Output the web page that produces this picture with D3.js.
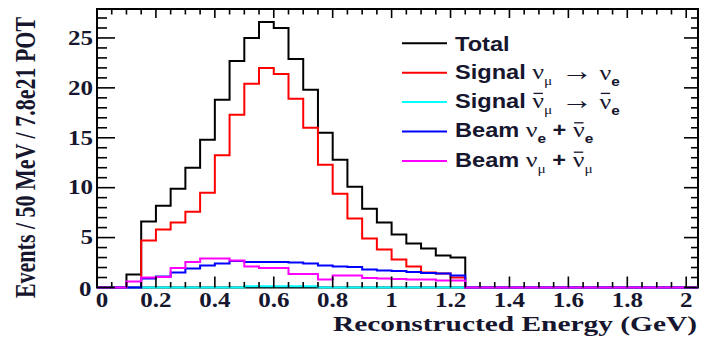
<!DOCTYPE html>
<html>
<head>
<meta charset="utf-8">
<script src="https://cdn.jsdelivr.net/npm/d3@7"></script>
<style>
  html, body { margin: 0; padding: 0; background: #fff; }
  svg { display: block; }
</style>
</head>
<body>
<svg id="chart" width="701" height="340"></svg>
<script>
// Bin width 50 MeV, bins start at 0 GeV; 25 filled bins up to 1.25 GeV
const binWidth = 0.05;
const total      = [0, 0, 1.3, 6.6, 8.2, 9.9, 12.0, 14.8, 18.8, 22.7, 25.0, 26.6, 26.0, 22.9, 19.8, 15.5, 12.8, 10.1, 7.9, 6.5, 5.3, 4.4, 3.9, 3.2, 3.0];
const signalNue  = [0, 0, 0, 4.7, 5.8, 6.5, 7.6, 9.5, 13.25, 17.3, 20.4, 22.0, 21.4, 18.9, 16.0, 12.3, 9.4, 6.9, 4.9, 3.8, 2.8, 2.1, 1.5, 1.4, 1.0];
const signalAnti = [0, 0, 0, 0, 0, 0, 0, 0, 0, 0, 0.12, 0.12, 0.12, 0.12, 0.12, 0, 0, 0, 0, 0, 0, 0, 0, 0, 0];
const beamNue    = [0, 0, 0, 0.9, 1.1, 1.5, 1.9, 2.2, 2.4, 2.65, 2.55, 2.55, 2.55, 2.5, 2.4, 2.2, 2.1, 2.05, 1.8, 1.7, 1.65, 1.55, 1.45, 1.4, 1.2];
const beamNumu   = [0, 0, 0.6, 1.0, 1.05, 1.95, 2.55, 2.9, 2.9, 2.7, 2.1, 1.95, 1.95, 1.35, 1.35, 0.8, 1.2, 1.2, 0.95, 0.9, 0.85, 0.8, 0.8, 0.7, 0.7];

const xTickValues = [0, 0.2, 0.4, 0.6, 0.8, 1, 1.2, 1.4, 1.6, 1.8, 2];
const xTickLabels = ["0", "0.2", "0.4", "0.6", "0.8", "1", "1.2", "1.4", "1.6", "1.8", "2"];
const yTickValues = [0, 5, 10, 15, 20, 25];
const yTickLabels = ["0", "5", "10", "15", "20", "25"];

const seriesNames  = ["Total", "Signal", "SignalAnti", "BeamNue", "BeamNumu"];
const seriesColors = ["#000000", "#ff0000", "#00ffff", "#0000ff", "#ff00ff"];

const xMax = 2.04, yMax = 27.9;
const L = 97, R = 698, T = 9, B = 287.5;

const svg = d3.select("#chart");
const x = d3.scaleLinear().domain([0, xMax]).range([L, R]);
const y = d3.scaleLinear().domain([0, yMax]).range([B, T]);

const ink = "#16162e";
const serif = "'Liberation Serif', 'Times New Roman', serif";
const sans = "'Liberation Sans', Arial, sans-serif";

// frame
svg.append("rect")
  .attr("x", L).attr("y", T).attr("width", R - L).attr("height", B - T)
  .attr("fill", "none").attr("stroke", "#000").attr("stroke-width", 2);

// histograms (outline steps)
const step = d3.line().x(d => x(d[0])).y(d => y(d[1])).curve(d3.curveStepAfter);
function histPoints(vals) {
  const pts = vals.map((v, i) => [i * binWidth, v]);
  pts.push([vals.length * binWidth, 0]);
  pts.push([xMax, 0]);
  return pts;
}
const allSeries = [total, signalNue, signalAnti, beamNue, beamNumu];
svg.append("defs").append("clipPath").attr("id", "plotClip")
  .append("rect").attr("x", L - 1).attr("y", T).attr("width", R - L + 2).attr("height", B - T + 2);
const hg = svg.append("g").attr("clip-path", "url(#plotClip)");
allSeries.forEach((vals, i) => {
  hg.append("path")
    .attr("class", "hist-" + seriesNames[i])
    .attr("d", step(histPoints(vals)))
    .attr("fill", "none")
    .attr("stroke", seriesColors[i])
    .attr("stroke-width", 2);
});

// ticks
const tg = svg.append("g").attr("stroke", "#000").attr("stroke-width", 1.6);
const xMinor = d3.range(0, xMax + 1e-9, 0.05);
xMinor.forEach(v => {
  const major = Math.abs(v / 0.2 - Math.round(v / 0.2)) < 1e-6;
  const xv = x(v);
  tg.append("line").attr("x1", xv).attr("x2", xv).attr("y1", B).attr("y2", B - (major ? 11 : 5.5));
  tg.append("line").attr("x1", xv).attr("x2", xv).attr("y1", T).attr("y2", T + (major ? 9 : 5.5));
});
d3.range(0, Math.floor(yMax) + 1, 1).forEach(v => {
  const major = v % 5 === 0;
  const yv = y(v);
  tg.append("line").attr("x1", L).attr("x2", L + (major ? 18 : 10)).attr("y1", yv).attr("y2", yv);
  tg.append("line").attr("x1", R).attr("x2", R - (major ? 14 : 7)).attr("y1", yv).attr("y2", yv);
});

// tick labels (the zero labels are nudged apart at the corner)
xTickValues.forEach((v, i) => {
  const nudge = v === 0 ? 5 : 0;
  svg.append("text")
    .attr("transform", `translate(${x(v) + nudge},307) scale(1.25,1)`)
    .attr("text-anchor", "middle")
    .attr("font-family", serif).attr("font-weight", "bold").attr("font-size", 20)
    .attr("fill", ink)
    .text(xTickLabels[i]);
});
yTickValues.forEach((v, i) => {
  const nudge = v === 0 ? 1.5 : 0;
  svg.append("text")
    .attr("transform", `translate(${93 - nudge},${y(v) + 6.8 + nudge}) scale(1.25,1)`)
    .attr("text-anchor", "end")
    .attr("font-family", serif).attr("font-weight", "bold").attr("font-size", 20)
    .attr("fill", ink)
    .text(yTickLabels[i]);
});

// axis titles
svg.append("text")
  .attr("x", 697).attr("y", 331)
  .attr("text-anchor", "end")
  .attr("font-family", serif).attr("font-weight", "bold").attr("font-size", 22)
  .attr("textLength", 364).attr("lengthAdjust", "spacingAndGlyphs")
  .attr("fill", ink)
  .text("Reconstructed Energy (GeV)");

svg.append("text")
  .attr("transform", "translate(35,157.5) rotate(-90) scale(1,1.3)")
  .attr("text-anchor", "middle")
  .attr("font-family", serif).attr("font-weight", "bold").attr("font-size", 22)
  .attr("fill", ink)
  .text("Events / 50 MeV / 7.8e21 POT");

// legend: parts are plain words, greek nu (g), antineutrino nu with bar (bar), subscripts (s), arrow (a)
const nu = "\u03bd", mu = "\u03bc";
const legendRows = [
  [{t: "Total"}],
  [{t: "Signal "}, {t: nu, g: 1}, {t: mu, s: 1}, {t: " "}, {t: "\u2192", a: 1}, {t: " "}, {t: nu, g: 1}, {t: "e", s: 1}],
  [{t: "Signal "}, {t: nu, g: 1, bar: 1}, {t: mu, s: 1}, {t: " "}, {t: "\u2192", a: 1}, {t: " "}, {t: nu, g: 1, bar: 1}, {t: "e", s: 1}],
  [{t: "Beam "}, {t: nu, g: 1}, {t: "e", s: 1}, {t: " + "}, {t: nu, g: 1, bar: 1}, {t: "e", s: 1}],
  [{t: "Beam "}, {t: nu, g: 1}, {t: mu, s: 1}, {t: " + "}, {t: nu, g: 1, bar: 1}, {t: mu, s: 1}]
];
const lg = svg.append("g");
legendRows.forEach((parts, i) => {
  const ly = 43.3 + i * 29.4;
  lg.append("line").attr("x1", 402).attr("x2", 447).attr("y1", ly).attr("y2", ly)
    .attr("stroke", seriesColors[i]).attr("stroke-width", 2);
  const rowG = lg.append("g")
    .attr("transform", `translate(455,${ly + (i === 0 ? 8 : 5.8)}) scale(1.18,1)`);
  const txt = rowG.append("text")
    .attr("font-family", sans).attr("font-weight", "bold").attr("font-size", 20)
    .attr("fill", ink);
  let shifted = false;
  let charIndex = 0;
  const barChars = [];
  parts.forEach(p => {
    const ts = txt.append("tspan").text(p.t);
    if (p.s) {
      ts.attr("dy", 6).attr("font-size", 13);
      if (p.t === mu) ts.attr("font-weight", "normal").attr("font-family", serif);
      shifted = true;
    } else {
      if (shifted) { ts.attr("dy", -6); shifted = false; }
      if (p.g) ts.attr("font-family", serif).attr("font-weight", "normal").attr("font-size", 22);
      if (p.a) ts.attr("font-family", serif).attr("font-weight", "normal")
                 .attr("font-size", 27).attr("dx", 2).attr("dy", 1);
    }
    if (p.a) { shifted = false; }
    if (p.bar) barChars.push(charIndex);
    charIndex += p.t.length;
  });
  // overbars above each antineutrino symbol
  barChars.forEach(ci => {
    const ext = txt.node().getExtentOfChar(ci);
    const top = -14.5;
    rowG.append("line")
      .attr("x1", ext.x + 1).attr("x2", ext.x + ext.width - 1)
      .attr("y1", top).attr("y2", top)
      .attr("stroke", ink).attr("stroke-width", 1.3);
  });
});
</script>
</body>
</html>
